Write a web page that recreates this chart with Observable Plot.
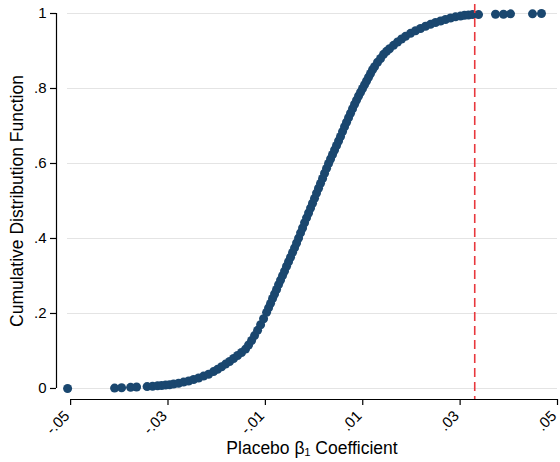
<!DOCTYPE html>
<html>
<head>
<meta charset="utf-8">
<script src="https://cdn.jsdelivr.net/npm/d3@7"></script>
<script src="https://cdn.jsdelivr.net/npm/@observablehq/plot@0.6"></script>
<style>
  html, body { margin: 0; padding: 0; background: white; }
</style>
</head>
<body>
<div id="chart"></div>
<script>
const xTicks = [-0.05, -0.03, -0.01, 0.01, 0.03, 0.05];
const xTickLabels = ["-.05", "-.03", "-.01", ".01", ".03", ".05"];
const yTicks = [0, 0.2, 0.4, 0.6, 0.8, 1];
const yTickLabels = ["0", ".2", ".4", ".6", ".8", "1"];
const xTitle = "Placebo β₁ Coefficient";
const yTitle = "Cumulative Distribution Function";
const placeboThreshold = 0.033;

// placebo coefficients (sorted) and their cumulative share
const coefficients = [
  -0.05062, -0.04097, -0.03953, -0.03768, -0.03645, -0.03429,
  -0.03316, -0.03214, -0.03131, -0.03049, -0.02967, -0.02885, -0.02782, -0.02680, -0.02577,
  -0.02474, -0.02372, -0.02269, -0.02166, -0.02064, -0.01982, -0.01899, -0.01817, -0.01735,
  -0.01653, -0.01571, -0.01489, -0.01407, -0.01345, -0.01283, -0.01222, -0.01160, -0.01098,
  -0.01037, -0.00975, -0.00934, -0.00893, -0.00852, -0.00811, -0.00770,
  -0.00729, -0.00688, -0.00647, -0.00606, -0.00565, -0.00524, -0.00483, -0.00441, -0.00400,
  -0.00359, -0.00318, -0.00277, -0.00236, -0.00195, -0.00154, -0.00113, -0.00072, -0.00031,
  0.00010, 0.00051, 0.00092, 0.00133, 0.00175, 0.00216, 0.00257, 0.00298, 0.00339, 0.00380,
  0.00421, 0.00462, 0.00503, 0.00544, 0.00585, 0.00626, 0.00667, 0.00708, 0.00749, 0.00791,
  0.00832, 0.00873, 0.00914, 0.00955, 0.00996, 0.01037, 0.01078, 0.01119, 0.01160, 0.01201,
  0.01242, 0.01304, 0.01366, 0.01427, 0.01489, 0.01550, 0.01632, 0.01715, 0.01797, 0.01879,
  0.01982, 0.02084, 0.02187, 0.02290, 0.02392, 0.02495, 0.02598, 0.02700, 0.02803, 0.02906,
  0.03008, 0.03090, 0.03172, 0.03255, 0.03378, 0.03727, 0.03891, 0.04035, 0.04487, 0.04671
];
const cdfValues = [
  0.000, 0.001, 0.002, 0.003, 0.004, 0.005,
  0.006, 0.007, 0.008, 0.009, 0.010, 0.012, 0.014, 0.017, 0.020,
  0.024, 0.028, 0.033, 0.038, 0.045, 0.051, 0.058, 0.065, 0.072,
  0.080, 0.088, 0.096, 0.105, 0.116, 0.128, 0.141, 0.155, 0.170,
  0.186, 0.203, 0.215, 0.227, 0.240, 0.252, 0.264,
  0.277, 0.289, 0.301, 0.313, 0.326, 0.338, 0.350, 0.363, 0.375,
  0.388, 0.401, 0.415, 0.428, 0.442, 0.455, 0.468, 0.481, 0.494,
  0.507, 0.521, 0.534, 0.547, 0.560, 0.574, 0.587, 0.600, 0.612, 0.624,
  0.636, 0.648, 0.660, 0.672, 0.685, 0.698, 0.710, 0.722, 0.734, 0.746,
  0.758, 0.769, 0.780, 0.790, 0.800, 0.810, 0.820, 0.830, 0.840, 0.850,
  0.858, 0.870, 0.880, 0.891, 0.899, 0.906, 0.915, 0.924, 0.932, 0.939,
  0.947, 0.954, 0.960, 0.966, 0.971, 0.976, 0.980, 0.984, 0.988, 0.991,
  0.993, 0.995, 0.996, 0.997, 0.997, 0.998, 0.998, 0.999, 0.999, 1.000
];

const data = coefficients.map((c, i) => ({coef: c, cdf: cdfValues[i]}));
const yTickData = yTicks.map((v, i) => ({v, label: yTickLabels[i]}));
const xTickData = xTicks.map((v, i) => ({v, label: xTickLabels[i]}));
const xDomain = [-0.0529, 0.05];
const yDomain = [-0.0294, 1];
const font = "'Liberation Sans', Arial, Helvetica, sans-serif";
const tickFontSize = 15;

const chart = Plot.plot({
  width: 560,
  height: 462,
  marginLeft: 56,
  marginRight: 3,
  marginTop: 13,
  marginBottom: 63,
  x: {domain: xDomain},
  y: {domain: yDomain},
  style: {fontFamily: font, fontSize: "14px", background: "white", color: "black"},
  marks: [
    Plot.gridY(yTicks, {insetLeft: 11, stroke: "#e4e4e4", strokeOpacity: 1, strokeWidth: 1.2}),
    Plot.ruleX([xDomain[0]], {y1: yTicks[0], y2: yTicks[yTicks.length - 1], stroke: "black", strokeWidth: 1.2}),
    Plot.ruleY([yDomain[0]], {x1: xTicks[0], x2: xTicks[xTicks.length - 1], stroke: "black", strokeWidth: 1.2}),
    Plot.axisY(yTicks, {tickFormat: () => "", tickSize: 6, label: null, strokeWidth: 1.2}),
    Plot.axisX(xTicks, {tickFormat: () => "", tickSize: 6, label: null, strokeWidth: 1.2}),
    Plot.text(yTickData, {
      x: () => xDomain[0], y: "v", text: "label",
      textAnchor: "end", lineAnchor: "middle", dx: -10, fontSize: tickFontSize, fill: "black"
    }),
    Plot.text(xTickData, {
      x: "v", y: () => yDomain[0], text: "label", rotate: -45,
      textAnchor: "end", lineAnchor: "middle", dx: -3.5, dy: 14, fontSize: tickFontSize, fill: "black"
    }),
    Plot.dot(data, {x: "coef", y: "cdf", r: 4.5, fill: "#1a476f", stroke: "none"}),
    Plot.ruleX([placeboThreshold], {stroke: "#e8383d", strokeWidth: 1.6, strokeDasharray: "9,5", insetTop: -9}),
    Plot.text([yTitle], {frameAnchor: "left", textAnchor: "middle", lineAnchor: "middle", rotate: -90, dx: -39, dy: -5.5, fontSize: 17.5}),
    Plot.text([xTitle], {frameAnchor: "bottom", textAnchor: "middle", lineAnchor: "middle", dy: 49, dx: 5, fontSize: 17.5})
  ]
});

document.getElementById("chart").appendChild(chart);
</script>
</body>
</html>
